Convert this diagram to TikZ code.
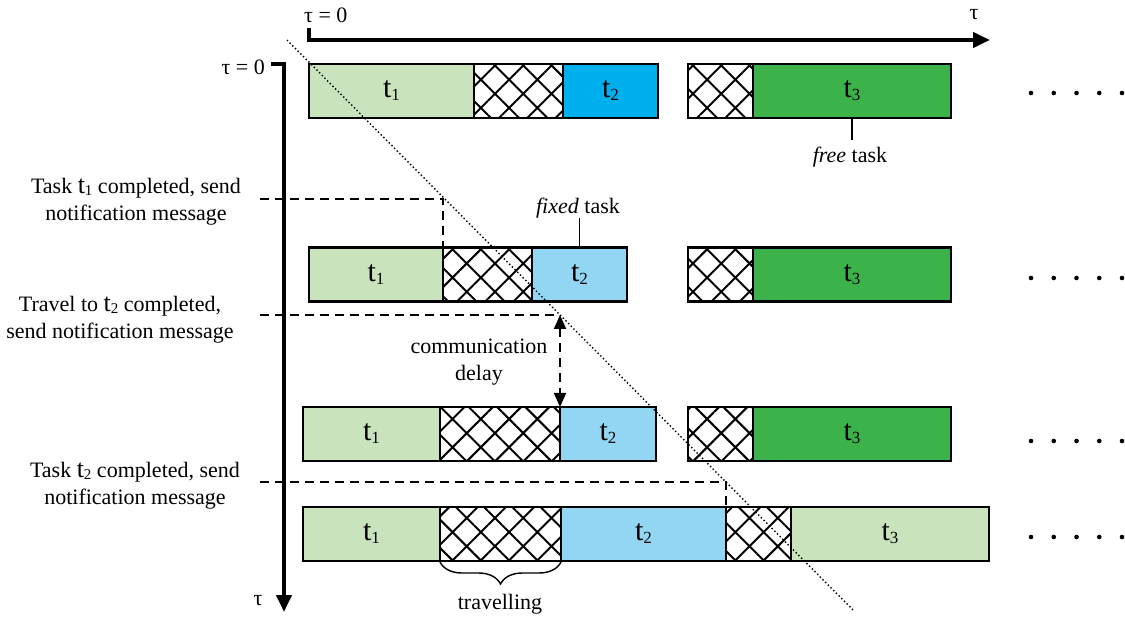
\documentclass[tikz,border=0pt]{standalone}
\usepackage{fontspec}
\setmainfont{Liberation Serif}
\usetikzlibrary{patterns.meta,arrows.meta,decorations.pathreplacing}
\definecolor{lgreen}{RGB}{201,227,189}
\definecolor{dgreen}{RGB}{59,178,74}
\definecolor{sblue}{RGB}{0,176,236}
\definecolor{lblue}{RGB}{146,214,243}
\newcommand{\tsk}[1]{{\fontsize{26}{26}\selectfont t}\raisebox{-2pt}{\fontsize{15}{15}\selectfont #1}}
\newcommand{\tbx}[1]{{\fontsize{30}{30}\selectfont t}\raisebox{-3pt}{\fontsize{17}{17}\selectfont #1}}
\begin{document}
\begin{tikzpicture}[x=1pt,y=-1pt,
  box/.style={draw=black, line width=2.6pt, rectangle, anchor=west, minimum height=54pt, inner sep=0pt, outer sep=0pt},
  hatchbox/.style={box, pattern={Hatch[angle=45,distance=20pt,line width=2pt]}, pattern color=black},
  lbl/.style={font=\fontsize{22}{27}\selectfont, align=center, inner sep=0pt},
  dashline/.style={line width=2pt, dash pattern=on 9pt off 6pt},
  axis/.style={line width=4pt, -{Triangle[length=17pt,width=15pt]}},
  diag/.style={line width=1.4pt, dash pattern=on 1.4pt off 2.4pt},
  pointer/.style={line width=1.2pt},
  dotmark/.style={fill=black}]
\useasboundingbox (0,0) rectangle (1125,617);

% axes
\coordinate (ax0) at (309,28);
\coordinate (ax1) at (309,40);
\coordinate (ax2) at (990,40);
\draw[axis] (ax0) -- (ax1) -- (ax2);
\node[lbl, anchor=west] (tau0top) at (304,15) {τ = 0};
\node[lbl] (tautop) at (974,15) {τ};
\coordinate (ay0) at (271,64);
\coordinate (ay1) at (284,64);
\coordinate (ay2) at (284,612);
\draw[axis] (ay0) -- (ay1) -- (ay2);
\node[lbl, anchor=east] (tau0left) at (265,67) {τ = 0};
\node[lbl] (taubot) at (258,601) {τ};

% row 1
\node[box, fill=lgreen, minimum width=165pt] (r1a) at (309,91) {\tbx{1}};
\node[hatchbox, minimum width=89pt] (r1h) at (474,91) {};
\node[box, fill=sblue, minimum width=95pt] (r1b) at (563,91) {\tbx{2}};
\node[hatchbox, minimum width=65pt] (r1h2) at (688,91) {};
\node[box, fill=dgreen, minimum width=198pt] (r1c) at (753,91) {\tbx{3}};

% row 2
\node[box, fill=lgreen, minimum width=134pt] (r2a) at (309,274.5) {\tbx{1}};
\node[hatchbox, minimum width=89pt] (r2h) at (443,274.5) {};
\node[box, fill=lblue, minimum width=95pt] (r2b) at (532,274.5) {\tbx{2}};
\node[hatchbox, minimum width=65pt] (r2h2) at (688,274.5) {};
\node[box, fill=dgreen, minimum width=198pt] (r2c) at (753,274.5) {\tbx{3}};

% row 3
\node[box, fill=lgreen, minimum width=137pt] (r3a) at (303,434) {\tbx{1}};
\node[hatchbox, minimum width=120pt] (r3h) at (440,434) {};
\node[box, fill=lblue, minimum width=96pt] (r3b) at (560,434) {\tbx{2}};
\node[hatchbox, minimum width=65pt] (r3h2) at (688,434) {};
\node[box, fill=dgreen, minimum width=198pt] (r3c) at (753,434) {\tbx{3}};

% row 4
\node[box, fill=lgreen, minimum width=137pt] (r4a) at (303,534) {\tbx{1}};
\node[hatchbox, minimum width=121pt] (r4h) at (440,534) {};
\node[box, fill=lblue, minimum width=165pt] (r4b) at (561,534) {\tbx{2}};
\node[hatchbox, minimum width=65pt] (r4h2) at (726,534) {};
\node[box, fill=lgreen, minimum width=198pt] (r4c) at (791,534) {\tbx{3}};

% continuation dots
\foreach \yy in {93,278,441,537}{
  \foreach \i in {0,...,4}{
    \fill[dotmark] (1031+22.75*\i,\yy) circle (2.3pt);
  }
}

% diagonal dotted line
\coordinate (dg0) at (287,40);
\coordinate (dg1) at (853,610);
\draw[diag] (dg0) -- (dg1);

% annotations
\node[lbl] (fixed) at (578,208) {\textit{fixed} task};
\draw[pointer] (fixed.south -| r2b.north) -- (r2b.north);
\node[lbl] (free) at (850,157) {\textit{free} task};
\coordinate (freetop) at (r1c.south |- 0,140);
\draw[pointer] (r1c.south) -- (freetop);

% event labels and dashed lines
\node[lbl] (ev1) at (136,202) {Task \tsk{1} completed, send\\notification message};
\coordinate (d1) at (260,199);
\draw[dashline] (d1) -| (r2h.north west);

\node[lbl] (ev2) at (120,320) {Travel to \tsk{2} completed,\\send notification message};
\coordinate (d2) at (260,315);
\coordinate (d2e) at (r3b.north west |- d2);
\draw[dashline] (d2) -- (d2e);
\draw[dashline, {Triangle[length=14pt,width=12pt]}-{Triangle[length=14pt,width=12pt]}] (d2e) -- (r3b.north west);
\node[lbl] (comm) at (479,362) {communication\\delay};

\node[lbl] (ev3) at (135,486) {Task \tsk{2} completed, send\\notification message};
\coordinate (d3) at (260,482);
\draw[dashline] (d3) -| (r4h2.north west);

% brace
\draw[line width=1.4pt, decorate, decoration={brace, mirror, amplitude=22pt, raise=1pt}] (r4h.south west) -- (r4h.south east);
\node[lbl] (trav) at (500,604) {travelling};
\end{tikzpicture}
\end{document}
